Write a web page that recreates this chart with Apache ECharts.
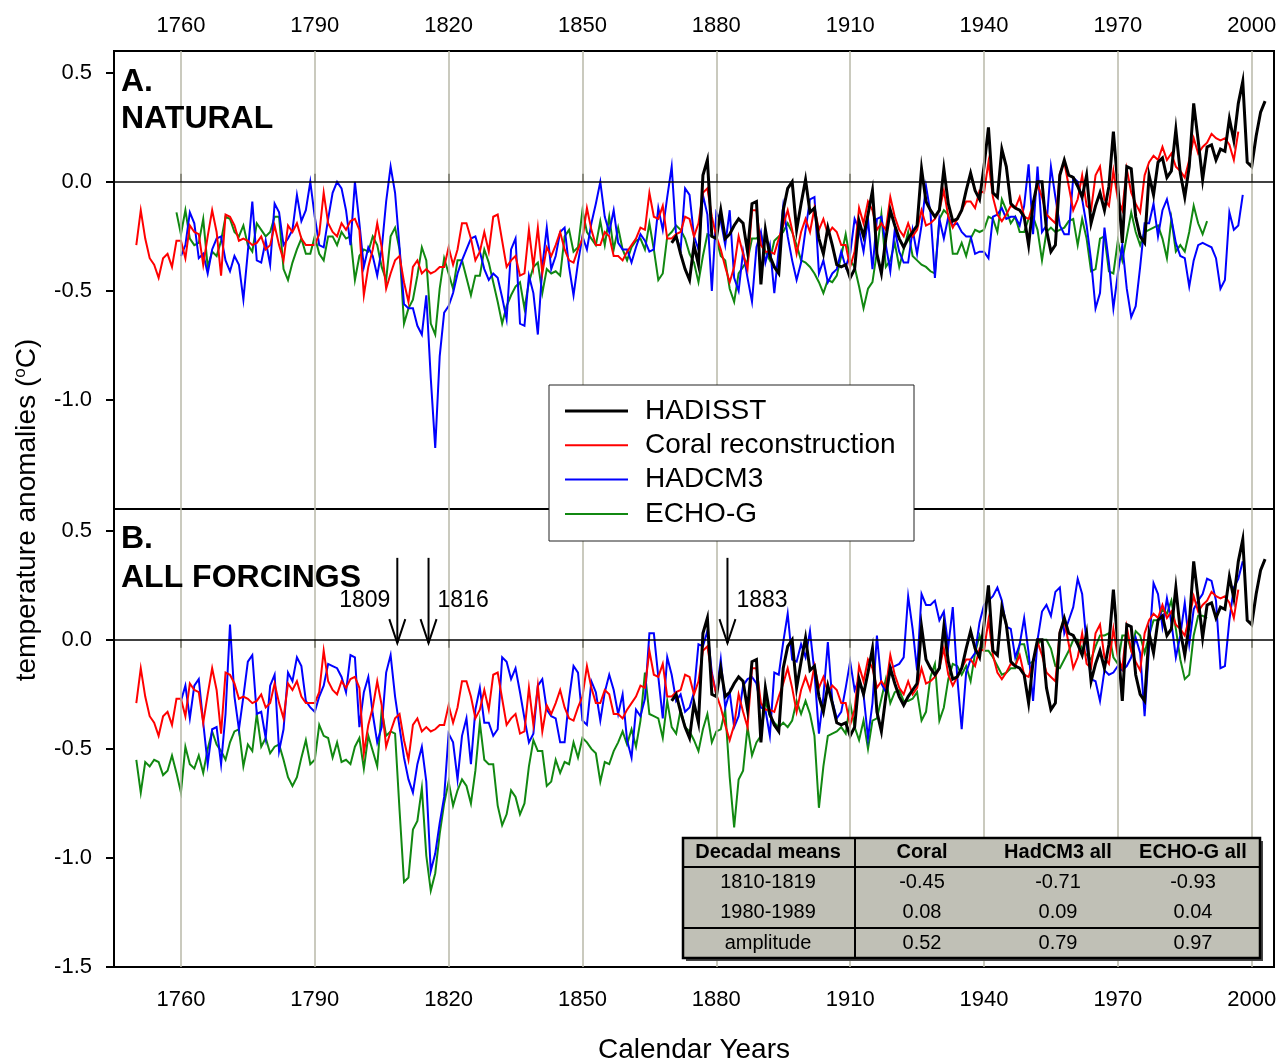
<!DOCTYPE html>
<html>
<head>
<meta charset="utf-8">
<title>Temperature anomalies: natural and all forcings</title>
<script src="https://cdn.jsdelivr.net/npm/echarts@6.0.0/dist/echarts.min.js"></script>
<style>
html,body{margin:0;padding:0;background:#fff;}
#chart{width:1280px;height:1061px;}
</style>
</head>
<body>
<div id="chart"></div>
<script>
/* tick labels */
var yearTicks = [1760, 1790, 1820, 1850, 1880, 1910, 1940, 1970, 2000];
var yTicksA = [-1.0, -0.5, 0.0, 0.5];
var yTicksB = [-1.5, -1.0, -0.5, 0.0, 0.5];

/* Coral reconstruction, annual, from 1750 (same curve in both panels) */
var coralStart = 1750;
var coral = [
 -0.29,-0.13,-0.26,-0.35,-0.38,-0.44,-0.35,-0.33,-0.39,-0.27,
 -0.27,-0.35,-0.20,-0.23,-0.24,-0.38,-0.25,-0.13,-0.23,-0.43,
 -0.15,-0.16,-0.20,-0.27,-0.26,-0.27,-0.29,-0.28,-0.25,-0.31,
 -0.29,-0.20,-0.29,-0.36,-0.20,-0.23,-0.19,-0.26,-0.29,-0.29,
 -0.29,-0.24,-0.05,-0.19,-0.23,-0.25,-0.19,-0.22,-0.18,-0.17,
 -0.22,-0.52,-0.39,-0.31,-0.19,-0.30,-0.49,-0.42,-0.36,-0.34,
 -0.46,-0.55,-0.39,-0.36,-0.42,-0.40,-0.42,-0.41,-0.39,-0.39,
 -0.30,-0.38,-0.31,-0.19,-0.19,-0.26,-0.36,-0.32,-0.23,-0.32,
 -0.16,-0.15,-0.27,-0.39,-0.36,-0.34,-0.43,-0.42,-0.22,-0.39,
 -0.21,-0.42,-0.30,-0.34,-0.29,-0.23,-0.31,-0.36,-0.37,-0.31,
 -0.26,-0.12,-0.22,-0.29,-0.29,-0.23,-0.25,-0.34,-0.34,-0.36,
 -0.32,-0.29,-0.26,-0.21,-0.22,-0.05,-0.16,-0.17,-0.11,-0.26,
 -0.26,-0.24,-0.23,-0.16,-0.17,-0.25,-0.19,-0.05,-0.03,-0.16,
 -0.25,-0.31,-0.39,-0.46,-0.39,-0.25,-0.33,-0.40,-0.13,-0.13,
 -0.29,-0.32,-0.32,-0.33,-0.26,-0.20,-0.13,-0.22,-0.33,-0.23,
 -0.17,-0.23,-0.12,-0.22,-0.17,-0.24,-0.21,-0.23,-0.29,-0.29,
 -0.39,-0.32,-0.12,-0.19,-0.09,-0.13,-0.22,-0.19,-0.22,-0.07,
 -0.16,-0.22,-0.25,-0.19,-0.25,-0.22,-0.13,-0.20,-0.19,-0.17,
 -0.13,-0.04,-0.16,-0.21,-0.17,-0.13,-0.09,-0.09,-0.12,-0.04,
 -0.05, 0.09,-0.07,-0.15,-0.18,-0.15,-0.11,-0.12,-0.07,-0.16,
 -0.17,-0.10,-0.01,-0.07,-0.15,-0.17,-0.19, 0.04, 0.09,-0.02,
 -0.13,-0.08, 0.03,-0.11,-0.13, 0.03, 0.07,-0.08,-0.11, 0.05,
 -0.08,-0.13, 0.06,-0.05,-0.10,-0.14, 0.03, 0.09, 0.12, 0.10,
  0.16, 0.10, 0.13, 0.07, 0.05, 0.02, 0.10, 0.20, 0.13, 0.16,
  0.18, 0.22, 0.20, 0.19, 0.20, 0.17, 0.10, 0.23
];

/* HADISST observations, from 1870 (same curve in both panels) */
var hadisstStart = 1870;
var hadisst = [
 -0.28,-0.25,-0.33,-0.40,-0.45,-0.29,-0.38, 0.03, 0.10,-0.25,
 -0.26,-0.13,-0.26,-0.24,-0.20,-0.17,-0.19,-0.32,-0.10,-0.09,
 -0.47,-0.22,-0.34,-0.39,-0.42,-0.13,-0.03, 0.00,-0.22,-0.10,
  0.01,-0.14,-0.12,-0.26,-0.33,-0.21,-0.29,-0.38,-0.39,-0.38,
 -0.44,-0.40,-0.18,-0.25,-0.15,-0.04,-0.33,-0.42,-0.26,-0.13,
 -0.20,-0.26,-0.30,-0.26,-0.23,-0.20, 0.06,-0.09,-0.13,-0.16,
 -0.13, 0.06,-0.10,-0.18,-0.17,-0.13,-0.04, 0.04,-0.04,-0.08,
  0.07, 0.25,-0.05,-0.07, 0.15, 0.07,-0.10,-0.12,-0.13,-0.16,
 -0.29,-0.10, 0.00, 0.00,-0.22,-0.32,-0.29, 0.03, 0.10, 0.03,
  0.02,-0.02,-0.07, 0.03,-0.19,-0.11,-0.05,-0.13,-0.02, 0.23,
 -0.02,-0.28, 0.07, 0.06,-0.16,-0.25,-0.28, 0.03,-0.06, 0.09,
  0.11, 0.02, 0.05, 0.24, 0.04,-0.07, 0.07, 0.36, 0.19, 0.01,
  0.16, 0.17, 0.10, 0.15, 0.14, 0.29, 0.19, 0.36, 0.46, 0.09,
  0.07, 0.21, 0.32, 0.37
];

/* HADCM3, natural forcing (panel A), from 1760 */
var hadcm3NatStart = 1760;
var hadcm3Nat = [
 -0.34,-0.29,-0.14,-0.19,-0.35,-0.33,-0.42,-0.31,-0.26,-0.25,
 -0.36,-0.41,-0.34,-0.38,-0.54,-0.32,-0.09,-0.36,-0.37,-0.27,
 -0.38,-0.10,-0.14,-0.29,-0.26,-0.22,-0.06,-0.18,-0.13, 0.00,
 -0.16,-0.29,-0.30,-0.17,-0.05, 0.00,-0.03,-0.13,-0.29, 0.00,
 -0.19,-0.39,-0.30,-0.34,-0.43,-0.31,-0.09, 0.07,-0.05,-0.30,
 -0.56,-0.58,-0.58,-0.66,-0.70,-0.52,-0.90,-1.22,-0.80,-0.60,
 -0.57,-0.51,-0.42,-0.36,-0.31,-0.26,-0.25,-0.32,-0.40,-0.45,
 -0.42,-0.44,-0.53,-0.63,-0.31,-0.26,-0.65,-0.66,-0.43,-0.51,
 -0.70,-0.39,-0.21,-0.40,-0.34,-0.23,-0.21,-0.39,-0.52,-0.37,
 -0.25,-0.31,-0.19,-0.10, 0.00,-0.16,-0.23,-0.13,-0.28,-0.31,
 -0.31,-0.37,-0.30,-0.24,-0.27,-0.32,-0.31,-0.12,-0.22,-0.07,
  0.07,-0.25,-0.31,-0.03,-0.06,-0.25,-0.31,-0.06,-0.15,-0.50,
 -0.14,-0.18,-0.29,-0.13,-0.44,-0.50,-0.32,-0.44,-0.55,-0.30,
 -0.23,-0.37,-0.29,-0.51,-0.31,-0.11,-0.25,-0.36,-0.45,-0.37,
 -0.22,-0.08,-0.07,-0.42,-0.36,-0.46,-0.42,-0.40,-0.32,-0.39,
 -0.33,-0.17,-0.22,-0.32,-0.17,-0.40,-0.17,-0.16,-0.29,-0.41,
 -0.22,-0.32,-0.37,-0.37,-0.22,-0.33,-0.20,-0.02,-0.14,-0.44,
 -0.17,-0.26,-0.16,-0.20,-0.19,-0.23,-0.25,-0.25,-0.33,-0.32,
 -0.32,-0.35,-0.16,-0.15,-0.12,-0.17,-0.16,-0.16,-0.20,-0.11,
  0.08,-0.24, 0.07,-0.23,-0.20, 0.07,-0.07,-0.20,-0.24,-0.24,
  0.02, 0.00,-0.08,-0.20,-0.36,-0.58,-0.51,-0.21,-0.37,-0.58,
 -0.42,-0.29,-0.49,-0.62,-0.57,-0.39,-0.19,-0.19,-0.10,-0.25,
 -0.13,-0.08,-0.17,-0.28,-0.34,-0.35,-0.48,-0.36,-0.29,-0.28,
 -0.29,-0.30,-0.35,-0.49,-0.45,-0.14,-0.22,-0.20,-0.06
];

/* ECHO-G, natural forcing (panel A), from 1759 */
var echoNatStart = 1759;
var echoNat = [
 -0.14,
 -0.24,-0.13,-0.26,-0.29,-0.28,-0.17,-0.39,-0.32,-0.34,-0.27,
 -0.16,-0.17,-0.23,-0.25,-0.20,-0.29,-0.32,-0.19,-0.22,-0.25,
 -0.23,-0.16,-0.16,-0.40,-0.45,-0.37,-0.31,-0.26,-0.33,-0.33,
 -0.25,-0.33,-0.36,-0.25,-0.25,-0.29,-0.23,-0.26,-0.25,-0.45,
 -0.34,-0.31,-0.32,-0.25,-0.29,-0.39,-0.45,-0.25,-0.21,-0.31,
 -0.65,-0.58,-0.54,-0.43,-0.30,-0.36,-0.65,-0.70,-0.49,-0.35,
 -0.42,-0.49,-0.36,-0.36,-0.44,-0.52,-0.43,-0.43,-0.31,-0.37,
 -0.46,-0.55,-0.65,-0.57,-0.52,-0.48,-0.46,-0.58,-0.46,-0.39,
 -0.37,-0.51,-0.40,-0.42,-0.41,-0.43,-0.25,-0.22,-0.32,-0.30,
 -0.13,-0.23,-0.26,-0.29,-0.18,-0.29,-0.16,-0.31,-0.21,-0.31,
 -0.36,-0.30,-0.27,-0.26,-0.31,-0.19,-0.31,-0.45,-0.42,-0.25,
 -0.23,-0.20,-0.22,-0.26,-0.33,-0.37,-0.46,-0.34,-0.24,-0.25,
 -0.26,-0.34,-0.36,-0.49,-0.55,-0.42,-0.39,-0.36,-0.26,-0.26,
 -0.24,-0.32,-0.36,-0.27,-0.25,-0.23,-0.19,-0.23,-0.29,-0.36,
 -0.37,-0.39,-0.42,-0.46,-0.51,-0.45,-0.46,-0.43,-0.34,-0.24,
 -0.36,-0.39,-0.48,-0.58,-0.49,-0.46,-0.32,-0.15,-0.39,-0.36,
 -0.28,-0.39,-0.31,-0.23,-0.34,-0.36,-0.38,-0.39,-0.41,-0.42,
 -0.17,-0.13,-0.15,-0.33,-0.33,-0.28,-0.34,-0.26,-0.22,-0.23,
 -0.22,-0.16,-0.17,-0.23,-0.08,-0.13,-0.19,-0.16,-0.23,-0.23,
 -0.17,-0.16,-0.22,-0.36,-0.23,-0.21,-0.23,-0.22,-0.21,-0.18,
 -0.17,-0.29,-0.17,-0.26,-0.41,-0.40,-0.26,-0.25,-0.41,-0.42,
 -0.27,-0.36,-0.25,-0.14,-0.23,-0.29,-0.23,-0.22,-0.21,-0.20,
 -0.26,-0.35,-0.17,-0.32,-0.29,-0.32,-0.23,-0.11,-0.19,-0.24,
 -0.18
];

/* HADCM3, all forcings (panel B), from 1760 */
var hadcm3AllStart = 1760;
var hadcm3All = [
 -0.28,-0.21,-0.36,-0.21,-0.18,-0.38,-0.57,-0.41,-0.40,-0.57,
 -0.34, 0.07,-0.26,-0.41,-0.26,-0.10,-0.07,-0.34,-0.33,-0.45,
 -0.21,-0.16,-0.51,-0.41,-0.15,-0.19,-0.08,-0.12,-0.28,-0.31,
 -0.33,-0.26,-0.21,-0.11,-0.12,-0.13,-0.17,-0.24,-0.07,-0.08,
 -0.40,-0.24,-0.17,-0.34,-0.47,-0.40,-0.15,-0.07,-0.26,-0.40,
 -0.54,-0.64,-0.70,-0.57,-0.49,-0.65,-1.06,-0.98,-0.84,-0.72,
 -0.43,-0.47,-0.64,-0.44,-0.36,-0.57,-0.32,-0.22,-0.38,-0.38,
 -0.44,-0.41,-0.08,-0.10,-0.18,-0.13,-0.24,-0.36,-0.47,-0.43,
 -0.21,-0.18,-0.32,-0.35,-0.36,-0.47,-0.47,-0.27,-0.12,-0.15,
 -0.37,-0.39,-0.19,-0.24,-0.37,-0.24,-0.16,-0.23,-0.34,-0.25,
 -0.46,-0.54,-0.32,-0.35,-0.27, 0.03, 0.03,-0.17,-0.36,-0.08,
 -0.16,-0.28,-0.25,-0.33,-0.31,-0.24,-0.02,-0.03, 0.04,-0.15,
 -0.25,-0.09,-0.31,-0.24,-0.40,-0.35,-0.21,-0.18,-0.17,-0.20,
 -0.31,-0.32,-0.44,-0.15,-0.16,-0.01, 0.12,-0.09,-0.10,-0.02,
 -0.08, 0.04,-0.15,-0.43,-0.26,-0.01,-0.28,-0.36,-0.33,-0.22,
 -0.10,-0.23,-0.18,-0.25,-0.45,-0.29, 0.02,-0.20,-0.24,-0.13,
 -0.12,-0.11,-0.08, 0.20, 0.05,-0.14, 0.21, 0.16, 0.16, 0.18,
  0.09, 0.13,-0.03, 0.15,-0.17,-0.41,-0.15,-0.09,-0.06, 0.08,
  0.16, 0.18, 0.20, 0.24, 0.18, 0.06, 0.05,-0.08,-0.02, 0.10,
 -0.06,-0.28, 0.00, 0.13, 0.16, 0.11, 0.22, 0.24, 0.03, 0.09,
  0.15, 0.28, 0.21,-0.02,-0.18,-0.19,-0.28,-0.14,-0.16,-0.15,
 -0.12,-0.14,-0.12,-0.08, 0.01,-0.06,-0.35,-0.03, 0.26, 0.21,
  0.06, 0.19, 0.08,-0.08, 0.02, 0.17,-0.02, 0.14, 0.18, 0.21,
  0.28, 0.27, 0.18,-0.13,-0.12, 0.09, 0.24, 0.28, 0.36
];

/* ECHO-G, all forcings (panel B), from 1750 */
var echoAllStart = 1750;
var echoAll = [
 -0.55,-0.70,-0.56,-0.58,-0.55,-0.56,-0.62,-0.60,-0.53,-0.61,
 -0.70,-0.49,-0.57,-0.59,-0.53,-0.61,-0.50,-0.42,-0.48,-0.51,
 -0.55,-0.47,-0.42,-0.41,-0.58,-0.48,-0.51,-0.34,-0.49,-0.45,
 -0.52,-0.49,-0.48,-0.55,-0.63,-0.67,-0.63,-0.54,-0.46,-0.57,
 -0.55,-0.39,-0.44,-0.45,-0.54,-0.47,-0.56,-0.55,-0.57,-0.49,
 -0.45,-0.59,-0.44,-0.51,-0.58,-0.32,-0.44,-0.42,-0.43,-0.78,
 -1.11,-1.09,-0.87,-0.83,-0.68,-0.99,-1.15,-1.07,-0.89,-0.75,
 -0.65,-0.76,-0.69,-0.64,-0.67,-0.75,-0.60,-0.38,-0.55,-0.57,
 -0.57,-0.76,-0.85,-0.80,-0.69,-0.72,-0.80,-0.75,-0.58,-0.46,
 -0.51,-0.51,-0.67,-0.65,-0.55,-0.61,-0.56,-0.57,-0.47,-0.54,
 -0.45,-0.47,-0.50,-0.52,-0.65,-0.56,-0.57,-0.51,-0.47,-0.42,
 -0.48,-0.41,-0.49,-0.37,-0.15,-0.34,-0.35,-0.36,-0.45,-0.28,
 -0.40,-0.43,-0.32,-0.40,-0.42,-0.46,-0.51,-0.41,-0.34,-0.47,
 -0.42,-0.41,-0.32,-0.63,-0.86,-0.64,-0.60,-0.40,-0.53,-0.47,
 -0.44,-0.28,-0.35,-0.38,-0.40,-0.38,-0.40,-0.37,-0.28,-0.34,
 -0.28,-0.34,-0.44,-0.77,-0.58,-0.44,-0.43,-0.42,-0.40,-0.43,
 -0.29,-0.40,-0.46,-0.37,-0.50,-0.37,-0.36,-0.27,-0.18,-0.29,
 -0.24,-0.23,-0.28,-0.28,-0.27,-0.24,-0.37,-0.33,-0.17,-0.11,
 -0.37,-0.31,-0.18,-0.11,-0.12,-0.16,-0.12,-0.19,-0.06, 0.02,
 -0.05,-0.05,-0.08,-0.12,-0.16,-0.15,-0.13,-0.13,-0.02,-0.02,
 -0.11,-0.10,-0.02, 0.00, 0.00,-0.04,-0.12,-0.13,-0.09,-0.05,
  0.00, 0.00,-0.04,-0.07,-0.09,-0.03, 0.02, 0.02, 0.03,-0.08,
 -0.11, 0.02, 0.02,-0.05, 0.04, 0.02,-0.06, 0.02, 0.09, 0.09,
  0.14, 0.12, 0.18, 0.05,-0.09,-0.18,-0.16, 0.02, 0.11, 0.11,
  0.10
];

/* legend, table and annotation texts */
var legendNames = ['HADISST', 'Coral reconstruction', 'HADCM3', 'ECHO-G'];
var legendColors = ['#000000', '#ff0000', '#0000ff', '#118811'];
var tableHeader = ['Decadal means', 'Coral', 'HadCM3 all', 'ECHO-G all'];
var tableRows = [
  ['1810-1819', '-0.45', '-0.71', '-0.93'],
  ['1980-1989', '0.08', '0.09', '0.04'],
  ['amplitude', '0.52', '0.79', '0.97']
];
var eruptionLabels = ['1809', '1816', '1883'];
var eruptionYears = [1808.5, 1815.5, 1882.5];

var FONT = '"Liberation Sans", Arial, sans-serif';

function pairs(start, vals) {
  return vals.map(function (v, i) { return [start + i, v]; });
}

function dataLine(name, start, vals, color, width, idx) {
  return {
    name: name, type: 'line', xAxisIndex: idx, yAxisIndex: idx,
    data: pairs(start, vals), showSymbol: false, symbol: 'none',
    lineStyle: { color: color, width: width, join: 'miter' },
    itemStyle: { color: color }, z: 3, silent: true,
    emphasis: { disabled: true }
  };
}

function gridLines(idx) {
  var items = yearTicks.map(function (v) {
    return { xAxis: v, lineStyle: { color: '#b8b8a8', width: 1.5, type: 'solid' } };
  });
  items.push({ yAxis: 0, lineStyle: { color: '#000', width: 1.5, type: 'solid' } });
  return {
    type: 'line', xAxisIndex: idx, yAxisIndex: idx, data: [], z: 1, silent: true,
    markLine: { silent: true, symbol: ['none', 'none'], label: { show: false },
      animation: false, data: items }
  };
}

function xAxisDef(idx, pos, margin) {
  return {
    gridIndex: idx, type: 'value', min: 1745, max: 2005, position: pos,
    axisLine: { show: false },
    axisTick: { show: true, inside: false, length: 8, customValues: yearTicks,
      lineStyle: { color: '#000', width: 2 } },
    axisLabel: { show: true, customValues: yearTicks, margin: margin,
      fontSize: 22, color: '#000', fontFamily: FONT,
      formatter: function (v) { return String(Math.round(v)); } },
    splitLine: { show: false }
  };
}

function yAxisDef(idx, ticks) {
  return {
    gridIndex: idx, type: 'value', min: -1.5, max: 0.6,
    axisLine: { show: false },
    axisTick: { show: true, inside: false, length: 8, customValues: ticks,
      lineStyle: { color: '#000', width: 2 } },
    axisLabel: { show: true, customValues: ticks, margin: 22,
      fontSize: 22, color: '#000', fontFamily: FONT,
      formatter: function (v) { return Number(v).toFixed(1); } },
    splitLine: { show: false }
  };
}

var chart = echarts.init(document.getElementById('chart'));

var option = {
  animation: false,
  backgroundColor: '#fff',
  grid: [
    { left: 114, top: 51, width: 1160, height: 458, show: true,
      borderColor: '#000', borderWidth: 2, backgroundColor: 'transparent' },
    { left: 114, top: 509, width: 1160, height: 458, show: true,
      borderColor: '#000', borderWidth: 2, backgroundColor: 'transparent' }
  ],
  xAxis: [xAxisDef(0, 'top', 14), xAxisDef(1, 'bottom', 22)],
  yAxis: [yAxisDef(0, yTicksA), yAxisDef(1, yTicksB)],
  series: [
    gridLines(0),
    dataLine('ECHO-G', echoNatStart, echoNat, legendColors[3], 2, 0),
    dataLine('HADCM3', hadcm3NatStart, hadcm3Nat, legendColors[2], 2, 0),
    dataLine('Coral reconstruction', coralStart, coral, legendColors[1], 2, 0),
    dataLine('HADISST', hadisstStart, hadisst, legendColors[0], 3, 0),
    gridLines(1),
    dataLine('ECHO-G', echoAllStart, echoAll, legendColors[3], 2, 1),
    dataLine('HADCM3', hadcm3AllStart, hadcm3All, legendColors[2], 2, 1),
    dataLine('Coral reconstruction', coralStart, coral, legendColors[1], 2, 1),
    dataLine('HADISST', hadisstStart, hadisst, legendColors[0], 3, 1)
  ]
};
chart.setOption(option);

/* overlay: titles, legend box, table, eruption arrows */
var g = [];
function txt(x, y, s, size, bold, align) {
  g.push({ type: 'text', x: x, y: y, z: 100, silent: true,
    style: { text: s, fill: '#000', align: align || 'left', verticalAlign: 'middle',
      font: (bold ? 'bold ' : '') + size + 'px ' + FONT } });
}

txt(121, 82, 'A.', 32, true);
txt(121, 119, 'NATURAL', 32, true);
txt(121, 539, 'B.', 32, true);
txt(121, 578, 'ALL FORCINGS', 32, true);
txt(694, 1050, 'Calendar Years', 28, false, 'center');

g.push({ type: 'text', x: 27, y: 510, rotation: Math.PI / 2, z: 100, silent: true,
  style: { text: '{n|temperature anomalies (}{s|o}{n|C)}', align: 'center',
    verticalAlign: 'middle', fill: '#000',
    rich: { n: { fontSize: 28, fontFamily: FONT, fill: '#000', lineHeight: 31 },
            s: { fontSize: 17, fontFamily: FONT, fill: '#000', verticalAlign: 'top', lineHeight: 31 } } } });

/* legend */
g.push({ type: 'rect', z: 100, silent: true, shape: { x: 549, y: 385, width: 365, height: 156 },
  style: { fill: '#fff', stroke: '#222', lineWidth: 1 } });
legendNames.forEach(function (name, i) {
  var y = 411 + i * 34.3;
  g.push({ type: 'line', z: 101, silent: true, shape: { x1: 565, y1: y, x2: 628, y2: y },
    style: { stroke: legendColors[i], lineWidth: i === 0 ? 3 : 2 } });
  txt(645, y, name, 28, false);
});

/* table */
var tX = 683, tY = 838, tW = 577, tH = 120;
var colX = [768, 922, 1058, 1193];
var rowY = [852, 882, 912, 943];
g.push({ type: 'rect', z: 100, silent: true, shape: { x: tX + 3, y: tY + 3, width: tW, height: tH },
  style: { fill: '#444' } });
g.push({ type: 'rect', z: 100, silent: true, shape: { x: tX, y: tY, width: tW, height: tH },
  style: { fill: '#c0c0b6', stroke: '#000', lineWidth: 2.5 } });
g.push({ type: 'line', z: 101, silent: true, shape: { x1: tX, y1: 867, x2: tX + tW, y2: 867 },
  style: { stroke: '#000', lineWidth: 2 } });
g.push({ type: 'line', z: 101, silent: true, shape: { x1: tX, y1: 928, x2: tX + tW, y2: 928 },
  style: { stroke: '#000', lineWidth: 2 } });
g.push({ type: 'line', z: 101, silent: true, shape: { x1: 855, y1: tY, x2: 855, y2: tY + tH },
  style: { stroke: '#000', lineWidth: 2 } });
tableHeader.forEach(function (s, j) { txt(colX[j], rowY[0], s, 20, true, 'center'); });
tableRows.forEach(function (row, i) {
  row.forEach(function (s, j) { txt(colX[j], rowY[i + 1], s, 20, false, 'center'); });
});

/* eruption arrows in panel B */
eruptionYears.forEach(function (yr, i) {
  var top = chart.convertToPixel({ gridIndex: 1 }, [yr, 0.376]);
  var tip = chart.convertToPixel({ gridIndex: 1 }, [yr, -0.015]);
  g.push({ type: 'line', z: 101, silent: true,
    shape: { x1: top[0], y1: top[1], x2: tip[0], y2: tip[1] },
    style: { stroke: '#000', lineWidth: 2 } });
  g.push({ type: 'polyline', z: 101, silent: true,
    shape: { points: [[tip[0] - 8, tip[1] - 24], [tip[0], tip[1]], [tip[0] + 8, tip[1] - 24]] },
    style: { stroke: '#000', lineWidth: 2, fill: null } });
  if (i === 0) {
    txt(tip[0] - 7, 601, eruptionLabels[i], 23, false, 'right');
  } else {
    txt(tip[0] + 9, 601, eruptionLabels[i], 23, false, 'left');
  }
});

chart.setOption({ graphic: { elements: g } });
</script>
</body>
</html>
